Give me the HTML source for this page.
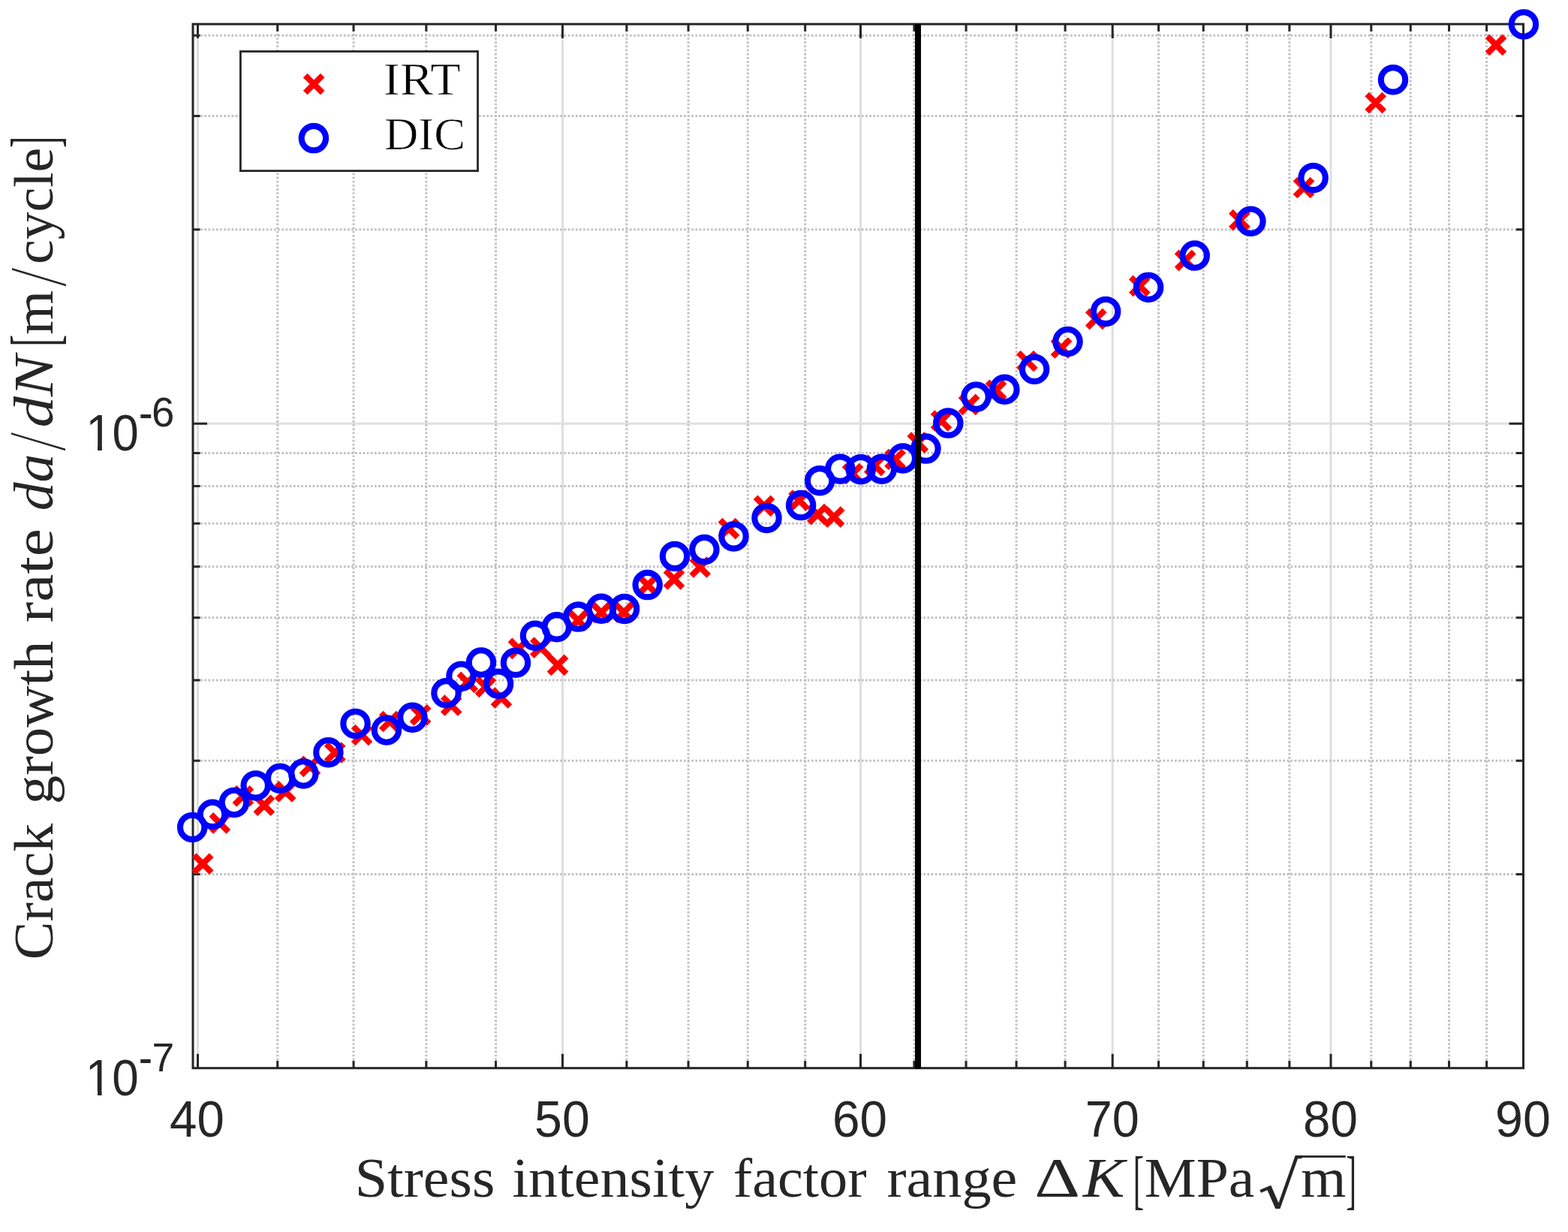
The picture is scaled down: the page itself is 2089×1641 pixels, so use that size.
<!DOCTYPE html>
<html><head><meta charset="utf-8"><title>Crack growth rate vs stress intensity factor range</title>
<style>html,body{margin:0;padding:0;background:#fff;overflow:hidden}svg{display:block}</style></head><body>
<svg width="2089" height="1641" viewBox="0 0 2089 1641">
<rect x="0" y="0" width="2089" height="1641" fill="#ffffff"/>
<path d="M263.5 32.1V1422.7M749.46 32.1V1422.7M1146.51 32.1V1422.7M1482.21 32.1V1422.7M1773.01 32.1V1422.7M257 564.2H2029.5" stroke="#dfdfdf" stroke-width="3" fill="none"/>
<path d="M369.75 1422.7V32.1M471.06 1422.7V32.1M567.87 1422.7V32.1M660.55 1422.7V32.1M834.87 1422.7V32.1M917.06 1422.7V32.1M996.26 1422.7V32.1M1072.68 1422.7V32.1M1217.92 1422.7V32.1M1287.06 1422.7V32.1M1354.07 1422.7V32.1M1419.09 1422.7V32.1M1543.56 1422.7V32.1M1603.23 1422.7V32.1M1661.31 1422.7V32.1M1717.88 1422.7V32.1M1826.79 1422.7V32.1M1879.27 1422.7V32.1M1930.51 1422.7V32.1M1980.58 1422.7V32.1M257 1164.48H2029.5M257 1013.25H2029.5M257 905.95H2029.5M257 822.72H2029.5M257 754.72H2029.5M257 697.23H2029.5M257 647.43H2029.5M257 603.5H2029.5M257 305.68H2029.5M257 154.45H2029.5M257 47.15H2029.5" stroke="#c0c0c0" stroke-width="3" stroke-dasharray="2.6 2.55" fill="none"/>
<path d="M263.5 1422.7v-19.0M263.5 32.1v19.0M749.46 1422.7v-19.0M749.46 32.1v19.0M1146.51 1422.7v-19.0M1146.51 32.1v19.0M1482.21 1422.7v-19.0M1482.21 32.1v19.0M1773.01 1422.7v-19.0M1773.01 32.1v19.0M2029.52 1422.7v-19.0M2029.52 32.1v19.0M369.75 1422.7v-9.6M369.75 32.1v9.6M471.06 1422.7v-9.6M471.06 32.1v9.6M567.87 1422.7v-9.6M567.87 32.1v9.6M660.55 1422.7v-9.6M660.55 32.1v9.6M834.87 1422.7v-9.6M834.87 32.1v9.6M917.06 1422.7v-9.6M917.06 32.1v9.6M996.26 1422.7v-9.6M996.26 32.1v9.6M1072.68 1422.7v-9.6M1072.68 32.1v9.6M1217.92 1422.7v-9.6M1217.92 32.1v9.6M1287.06 1422.7v-9.6M1287.06 32.1v9.6M1354.07 1422.7v-9.6M1354.07 32.1v9.6M1419.09 1422.7v-9.6M1419.09 32.1v9.6M1543.56 1422.7v-9.6M1543.56 32.1v9.6M1603.23 1422.7v-9.6M1603.23 32.1v9.6M1661.31 1422.7v-9.6M1661.31 32.1v9.6M1717.88 1422.7v-9.6M1717.88 32.1v9.6M1826.79 1422.7v-9.6M1826.79 32.1v9.6M1879.27 1422.7v-9.6M1879.27 32.1v9.6M1930.51 1422.7v-9.6M1930.51 32.1v9.6M1980.58 1422.7v-9.6M1980.58 32.1v9.6M257 564.2h19.0M2029.5 564.2h-19.0M257 1164.48h9.6M2029.5 1164.48h-9.6M257 1013.25h9.6M2029.5 1013.25h-9.6M257 905.95h9.6M2029.5 905.95h-9.6M257 822.72h9.6M2029.5 822.72h-9.6M257 754.72h9.6M2029.5 754.72h-9.6M257 697.23h9.6M2029.5 697.23h-9.6M257 647.43h9.6M2029.5 647.43h-9.6M257 603.5h9.6M2029.5 603.5h-9.6M257 305.68h9.6M2029.5 305.68h-9.6M257 154.45h9.6M2029.5 154.45h-9.6M257 47.15h9.6M2029.5 47.15h-9.6" stroke="#262626" stroke-width="3" fill="none"/>
<rect x="257" y="32.1" width="1772.5" height="1390.6" stroke="#262626" stroke-width="3" fill="none"/>
<path d="M258.7 1139.1L281.7 1162.1M258.7 1162.1L281.7 1139.1M281.3 1084.9L304.3 1107.9M281.3 1107.9L304.3 1084.9M312.4 1048.9L335.4 1071.9M312.4 1071.9L335.4 1048.9M340.4 1061.1L363.4 1084.1M340.4 1084.1L363.4 1061.1M368.7 1042.9L391.7 1065.9M368.7 1065.9L391.7 1042.9M401.5 1009.3L424.5 1032.3M401.5 1032.3L424.5 1009.3M434.7 991L457.7 1014M434.7 1014L457.7 991M470.6 967.5L493.6 990.5M470.6 990.5L493.6 967.5M507.7 949.5L530.7 972.5M507.7 972.5L530.7 949.5M548.6 940.9L571.6 963.9M548.6 963.9L571.6 940.9M589.7 928L612.7 951M589.7 951L612.7 928M611.4 897.3L634.4 920.3M611.4 920.3L634.4 897.3M635.5 903.5L658.5 926.5M635.5 926.5L658.5 903.5M656.5 918L679.5 941M656.5 941L679.5 918M679.5 852.4L702.5 875.4M679.5 875.4L702.5 852.4M708.8 851.2L731.8 874.2M708.8 874.2L731.8 851.2M731.5 874.3L754.5 897.3M731.5 897.3L754.5 874.3M758.7 814.9L781.7 837.9M758.7 837.9L781.7 814.9M789.5 804.4L812.5 827.4M789.5 827.4L812.5 804.4M819.5 804.1L842.5 827.1M819.5 827.1L842.5 804.1M851.5 767.9L874.5 790.9M851.5 790.9L874.5 767.9M886.5 759.8L909.5 782.8M886.5 782.8L909.5 759.8M921.2 744L944.2 767M921.2 767L944.2 744M959.5 692.6L982.5 715.6M959.5 715.6L982.5 692.6M1006.5 662.3L1029.5 685.3M1006.5 685.3L1029.5 662.3M1053.1 655L1076.1 678M1053.1 678L1076.1 655M1077.8 673.7L1100.8 696.7M1077.8 696.7L1100.8 673.7M1099.6 677.1L1122.6 700.1M1099.6 700.1L1122.6 677.1M1124.5 619.5L1147.5 642.5M1124.5 642.5L1147.5 619.5M1153.7 608.4L1176.7 631.4M1153.7 631.4L1176.7 608.4M1181 600.5L1204 623.5M1181 623.5L1204 600.5M1211.2 578.2L1234.2 601.2M1211.2 601.2L1234.2 578.2M1242.5 549L1265.5 572M1242.5 572L1265.5 549M1279.5 527.4L1302.5 550.4M1279.5 550.4L1302.5 527.4M1315.5 508.3L1338.5 531.3M1315.5 531.3L1338.5 508.3M1356.8 469.5L1379.8 492.5M1356.8 492.5L1379.8 469.5M1402.5 452L1425.5 475M1402.5 475L1425.5 452M1448.7 413.3L1471.7 436.3M1448.7 436.3L1471.7 413.3M1506.8 369.4L1529.8 392.4M1506.8 392.4L1529.8 369.4M1567.6 335.4L1590.6 358.4M1567.6 358.4L1590.6 335.4M1639.9 281.7L1662.9 304.7M1639.9 304.7L1662.9 281.7M1725.5 238.5L1748.5 261.5M1725.5 261.5L1748.5 238.5M1821.2 125.5L1844.2 148.5M1821.2 148.5L1844.2 125.5M1981.5 48.4L2004.5 71.4M1981.5 71.4L2004.5 48.4" stroke="#ff0000" stroke-width="8.0" fill="none" stroke-linecap="butt"/>
<g fill="none" stroke="#0000ff" stroke-width="8.1">
<circle cx="256.2" cy="1101.9" r="16.2"/>
<circle cx="283" cy="1084.8" r="16.2"/>
<circle cx="311.9" cy="1069" r="16.2"/>
<circle cx="340.7" cy="1046.4" r="16.2"/>
<circle cx="373.2" cy="1036.7" r="16.2"/>
<circle cx="404.3" cy="1030.5" r="16.2"/>
<circle cx="437.4" cy="1002.2" r="16.2"/>
<circle cx="473.5" cy="963.9" r="16.2"/>
<circle cx="514.9" cy="972.5" r="16.2"/>
<circle cx="549.4" cy="955.7" r="16.2"/>
<circle cx="594.5" cy="923.3" r="16.2"/>
<circle cx="614.5" cy="900.7" r="16.2"/>
<circle cx="641" cy="882.5" r="16.2"/>
<circle cx="664.1" cy="910.7" r="16.2"/>
<circle cx="687" cy="882.8" r="16.2"/>
<circle cx="713" cy="846.8" r="16.2"/>
<circle cx="741.7" cy="835.3" r="16.2"/>
<circle cx="770.3" cy="821.6" r="16.2"/>
<circle cx="801" cy="810.8" r="16.2"/>
<circle cx="832" cy="810.9" r="16.2"/>
<circle cx="862.7" cy="779.1" r="16.2"/>
<circle cx="899" cy="740.9" r="16.2"/>
<circle cx="938.4" cy="732.1" r="16.2"/>
<circle cx="977.5" cy="714.4" r="16.2"/>
<circle cx="1021.5" cy="689.9" r="16.2"/>
<circle cx="1067.1" cy="673.1" r="16.2"/>
<circle cx="1092.1" cy="640.3" r="16.2"/>
<circle cx="1119.3" cy="624.7" r="16.2"/>
<circle cx="1146.8" cy="625.2" r="16.2"/>
<circle cx="1174.8" cy="624.7" r="16.2"/>
<circle cx="1202.8" cy="610.5" r="16.2"/>
<circle cx="1233.4" cy="597.6" r="16.2"/>
<circle cx="1263.3" cy="563.6" r="16.2"/>
<circle cx="1300.5" cy="528.6" r="16.2"/>
<circle cx="1338.4" cy="518.8" r="16.2"/>
<circle cx="1378.1" cy="491.8" r="16.2"/>
<circle cx="1422.5" cy="455" r="16.2"/>
<circle cx="1473.1" cy="414.9" r="16.2"/>
<circle cx="1530.1" cy="382.7" r="16.2"/>
<circle cx="1591.7" cy="340.5" r="16.2"/>
<circle cx="1666.4" cy="294.7" r="16.2"/>
<circle cx="1749.6" cy="236.9" r="16.2"/>
<circle cx="1856" cy="106.3" r="16.2"/>
<circle cx="2029.9" cy="32.4" r="16.2"/>
</g>
<rect x="1219" y="32" width="8" height="1391.7" fill="#000000"/>
<rect x="320.4" y="68.5" width="316.1" height="159.1" fill="#ffffff" stroke="#262626" stroke-width="2.8"/>
<path d="M406.7 100.5L429.7 123.5M406.7 123.5L429.7 100.5" stroke="#ff0000" stroke-width="8.0" fill="none"/>
<circle cx="417.9" cy="184.1" r="16.2" fill="none" stroke="#0000ff" stroke-width="8.1"/>
<text transform="translate(510.83 125.90) scale(1.0868 1.0150)" font-family="Liberation Serif, serif" font-size="61" fill="#000000" stroke="#ffffff" stroke-width="0.7">IRT</text>
<text transform="translate(511.94 198.90) scale(1.0300 0.9975)" font-family="Liberation Serif, serif" font-size="61" fill="#000000" stroke="#ffffff" stroke-width="0.7">DIC</text>
<text transform="translate(226.11 1513.90) scale(0.9971 1.0444)" font-family="Liberation Sans, sans-serif" font-size="65.6" fill="#262626">40</text>
<text transform="translate(712.07 1513.90) scale(1.0090 1.0444)" font-family="Liberation Sans, sans-serif" font-size="65.6" fill="#262626">50</text>
<text transform="translate(1108.90 1513.90) scale(1.0000 1.0444)" font-family="Liberation Sans, sans-serif" font-size="65.6" fill="#262626">60</text>
<text transform="translate(1445.74 1513.90) scale(0.9881 1.0444)" font-family="Liberation Sans, sans-serif" font-size="65.6" fill="#262626">70</text>
<text transform="translate(1736.00 1513.90) scale(0.9985 1.0444)" font-family="Liberation Sans, sans-serif" font-size="65.6" fill="#262626">80</text>
<text transform="translate(1992.06 1513.90) scale(1.0119 1.0444)" font-family="Liberation Sans, sans-serif" font-size="65.6" fill="#262626">90</text>
<text transform="translate(114.16 600.00) scale(0.9677 1.0444)" font-family="Liberation Sans, sans-serif" font-size="65.6" fill="#262626">10</text>
<text transform="translate(184.73 571.30) scale(1.0846 1.2000)" font-family="Liberation Sans, sans-serif" font-size="52.5" fill="#262626">-</text>
<text transform="translate(201.99 567.90) scale(1.0375 1.0444)" font-family="Liberation Sans, sans-serif" font-size="52.5" fill="#262626">6</text>
<text transform="translate(113.84 1459.00) scale(0.9723 1.0467)" font-family="Liberation Sans, sans-serif" font-size="65.6" fill="#262626">10</text>
<text transform="translate(184.81 1430.90) scale(1.0462 1.2500)" font-family="Liberation Sans, sans-serif" font-size="52.5" fill="#262626">-</text>
<text transform="translate(202.55 1426.70) scale(1.0167 1.0194)" font-family="Liberation Sans, sans-serif" font-size="52.5" fill="#262626">7</text>
<path d="M118.3 593.6H130V600.2H118.3ZM135.9 593.6H148.2V600.2H135.9Z" fill="#ffffff"/>
<path d="M117.3 1452.6H130V1459.2H117.3ZM135.6 1452.6H147.3V1459.2H135.6Z" fill="#ffffff"/>
<text transform="translate(472.64 1594.00) scale(1.0418 1.0000)" font-family="Liberation Serif, serif" font-size="75" fill="#262626">Stress</text>
<text transform="translate(682.42 1594.00) scale(1.0410 1.0000)" font-family="Liberation Serif, serif" font-size="75" fill="#262626">intensity</text>
<text transform="translate(976.77 1594.00) scale(1.0169 1.0000)" font-family="Liberation Serif, serif" font-size="75" fill="#262626">factor</text>
<text transform="translate(1181.41 1594.00) scale(1.0444 1.0000)" font-family="Liberation Serif, serif" font-size="75" fill="#262626">range</text>
<text transform="translate(1378.32 1594.00) scale(1.2595 1.0000)" font-family="Liberation Serif, serif" font-size="75" fill="#262626">Δ</text>
<text transform="translate(1442.71 1594.00) scale(1.1130 1.0000)" font-family="Liberation Serif, serif" font-style="italic" font-size="75" fill="#262626">K</text>
<text transform="translate(1509.47 1599.83) scale(0.5875 1.1672)" font-family="Liberation Serif, serif" font-size="75" fill="#262626">[</text>
<text transform="translate(1524.73 1594.00) scale(1.0345 1.0000)" font-family="Liberation Serif, serif" font-size="75" fill="#262626">MPa</text>
<text transform="translate(1732.93 1594.00) scale(1.0364 1.0000)" font-family="Liberation Serif, serif" font-size="75" fill="#262626">m</text>
<text transform="translate(1793.33 1599.83) scale(0.5563 1.1672)" font-family="Liberation Serif, serif" font-size="75" fill="#262626">]</text>
<text transform="translate(1671.27 1603.22) scale(1.1708 1.0833)" font-family="DejaVu Math TeX Gyre, serif" font-size="75" fill="#262626">√</text>
<rect x="1732.5" y="1539.1" width="60.2" height="2.8" fill="#262626"/>
<g transform="translate(69.5 1275.2) rotate(-90)">
<text transform="translate(-3.04 0.00) scale(1.0136 1.0000)" font-family="Liberation Serif, serif" font-size="75" fill="#262626">Crack</text>
<text transform="translate(204.03 0.00) scale(1.0239 1.0000)" font-family="Liberation Serif, serif" font-size="75" fill="#262626">growth</text>
<text transform="translate(445.67 0.00) scale(1.1157 1.0000)" font-family="Liberation Serif, serif" font-size="75" fill="#262626">rate</text>
<text transform="translate(594.88 0.00) scale(1.0086 1.0000)" font-family="Liberation Serif, serif" font-style="italic" font-size="75" fill="#262626">da</text>
<text transform="translate(673.80 17.70) scale(1.2810 1.4551)" font-family="Liberation Serif, serif" font-size="75" fill="#262626" stroke="#ffffff" stroke-width="1.4">/</text>
<text transform="translate(705.59 0.00) scale(1.1045 1.0000)" font-family="Liberation Serif, serif" font-style="italic" font-size="75" fill="#262626">dN</text>
<text transform="translate(813.34 6.55) scale(0.6437 1.1754)" font-family="Liberation Serif, serif" font-size="75" fill="#262626">[</text>
<text transform="translate(829.48 0.00) scale(1.0091 1.0000)" font-family="Liberation Serif, serif" font-size="75" fill="#262626">m</text>
<text transform="translate(892.80 18.30) scale(1.2857 1.4633)" font-family="Liberation Serif, serif" font-size="75" fill="#262626" stroke="#ffffff" stroke-width="1.4">/</text>
<text transform="translate(923.46 0.00) scale(0.9804 1.0000)" font-family="Liberation Serif, serif" font-size="75" fill="#262626">cycle</text>
<text transform="translate(1078.24 6.55) scale(0.6188 1.1754)" font-family="Liberation Serif, serif" font-size="75" fill="#262626">]</text>
</g>
</svg></body></html>
